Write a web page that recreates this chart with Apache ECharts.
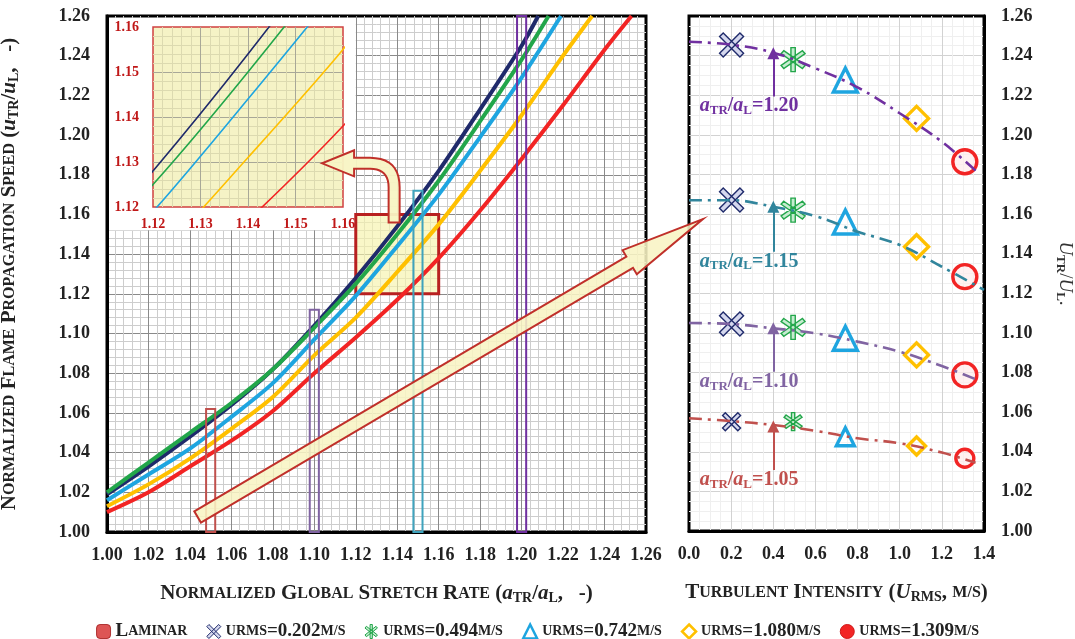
<!DOCTYPE html>
<html>
<head>
<meta charset="utf-8">
<script src="https://cdn.jsdelivr.net/npm/echarts@6/dist/echarts.min.js"></script>
<style>
  html, body { margin: 0; padding: 0; background: #fff; }
  #chart { width: 1075px; height: 639px; }
</style>
</head>
<body>
<div id="chart"></div>
<script>
// --- data ---
const seriesNames = ['urms=0.202m/s', 'urms=0.494m/s', 'urms=0.742m/s', 'urms=1.080m/s', 'urms=1.309m/s'];

// normalized speed vs normalized stretch rate, one curve per turbulence level
const curve0202 = [[1.00,1.019],[1.02,1.033],[1.04,1.048],[1.06,1.064],[1.08,1.082],[1.10,1.104],[1.12,1.128],[1.14,1.154],[1.16,1.182],[1.18,1.213],[1.20,1.245],[1.208,1.26]];
const curve0494 = [[1.00,1.020],[1.02,1.035],[1.04,1.050],[1.06,1.065],[1.08,1.082],[1.10,1.103],[1.12,1.125],[1.14,1.150],[1.16,1.177],[1.18,1.207],[1.20,1.238],[1.213,1.26]];
const curve0742 = [[1.00,1.016],[1.02,1.029],[1.04,1.042],[1.06,1.058],[1.08,1.075],[1.10,1.097],[1.12,1.119],[1.14,1.144],[1.16,1.170],[1.18,1.199],[1.20,1.229],[1.219,1.26]];
const curve1080 = [[1.00,1.013],[1.02,1.024],[1.04,1.037],[1.06,1.052],[1.08,1.068],[1.10,1.089],[1.12,1.108],[1.14,1.131],[1.16,1.155],[1.18,1.182],[1.20,1.210],[1.22,1.240],[1.234,1.26]];
const curve1309 = [[1.00,1.010],[1.02,1.020],[1.04,1.033],[1.06,1.046],[1.08,1.061],[1.10,1.080],[1.12,1.098],[1.14,1.117],[1.16,1.138],[1.18,1.162],[1.20,1.188],[1.22,1.215],[1.24,1.243],[1.253,1.26]];
const curves = [curve0202, curve0494, curve0742, curve1080, curve1309];

// right panel: speed at fixed stretch ratios vs urms
const urmsValues = [0.202, 0.494, 0.742, 1.080, 1.309];
const ratioLevels = ['1.20', '1.15', '1.10', '1.05'];
const speedAt120 = [1.2454, 1.238, 1.2277, 1.2083, 1.1864];
const speedAt115 = [1.1671, 1.162, 1.156, 1.1435, 1.1284];
const speedAt110 = [1.1045, 1.1028, 1.0973, 1.0889, 1.0788];
const speedAt105 = [1.0552, 1.0552, 1.0476, 1.0429, 1.0367];
const speedGroups = [speedAt120, speedAt115, speedAt110, speedAt105];

// dash-dot trend lines through each group
const trend120 = [[0,1.247],[0.2,1.2455],[0.4,1.2415],[0.6,1.2336],[0.8,1.224],[1.0,1.2109],[1.2,1.1965],[1.37,1.181]];
const trend115 = [[0,1.167],[0.2,1.167],[0.4,1.1637],[0.6,1.159],[0.8,1.1511],[1.0,1.1444],[1.2,1.1334],[1.4,1.1217]];
const trend110 = [[0,1.105],[0.2,1.1045],[0.4,1.1023],[0.6,1.0998],[0.8,1.0956],[1.0,1.0905],[1.2,1.0833],[1.37,1.0762]];
const trend105 = [[0,1.0569],[0.2,1.0555],[0.4,1.0535],[0.6,1.0506],[0.8,1.0468],[1.0,1.0443],[1.2,1.0396],[1.36,1.0345]];
const trends = [trend120, trend115, trend110, trend105];
const arrowX = 0.4;
const arrowFrom = [1.2193, 1.141, 1.0804, 1.0308];
const arrowTo = [1.2412, 1.1637, 1.1023, 1.0527];
const labelX = 0.285;
const labelY = [1.2146, 1.136, 1.0754, 1.0257];

// marked stretch ratios (thin boxes) and zoom window
const stretchMarks = [1.05, 1.10, 1.15, 1.20];
const markTops = [1.062, 1.112, 1.172, 1.26];
const zoomBox = [[1.12, 1.12, 1.16, 1.16]];
const coverBox = [[1.00, 1.152, 1.12, 1.26]];

// annotation arrows (data coords)
const bigArrowTail = [1.0437, 1.0076];
const bigArrowTip = [0.066, 1.1575];
const bendArrowBase = [1.1385, 1.16];
const bendArrowTip = [1.1556, 1.1297];

// --- styling ---
const SERIF = '"Liberation Serif", "Times New Roman", serif';
const colors = ['#1f2a6b', '#22a64a', '#1ea5e0', '#ffc000', '#f22424'];
const trendColors = ['#7030a0', '#31859c', '#8064a2', '#c0504d'];
const markColors = ['#c0504d', '#8064a2', '#3fa3bd', '#7030a0'];

function spokes(angles, half) {
  let d = '';
  angles.forEach(a => {
    const r = a * Math.PI / 180;
    const ux = Math.cos(r), uy = Math.sin(r), nx = -uy, ny = ux;
    const p = (s, t) => (50 + ux * 50 * s + nx * half * t).toFixed(1) + ' ' + (50 + uy * 50 * s + ny * half * t).toFixed(1);
    d += 'M' + p(-1, -1) + ' L' + p(1, -1) + ' L' + p(1, 1) + ' L' + p(-1, 1) + ' Z ';
  });
  return 'path://' + d;
}
const crossSym = spokes([45, 135], 9);
const starSym = spokes([90, 38, 142], 8);
const symbols = [crossSym, starSym, 'triangle', 'diamond', 'circle'];
const symbolFill = ['#d5d8ee', '#c6ecd0', 'rgba(255,255,255,0.2)', 'rgba(255,255,255,0.2)', 'rgba(255,235,235,0.7)'];

function richSet(size, color) {
  return {
    b: { fontFamily: SERIF, fontWeight: 'bold', fontSize: size, color: color },
    s: { fontFamily: SERIF, fontWeight: 'bold', fontSize: Math.round(size * 0.74), color: color },
    i: { fontFamily: SERIF, fontWeight: 'bold', fontStyle: 'italic', fontSize: size, color: color },
    sub: { fontFamily: SERIF, fontWeight: 'bold', fontSize: Math.round(size * 0.66), color: color, padding: [Math.round(size * 0.45), 0, 0, 0] }
  };
}
const caps = text => text.split(' ').map(w => `{b|${w[0]}}{s|${w.slice(1).toUpperCase()}}`).join('{b| }');

const chart = echarts.init(document.getElementById('chart'));

const tickFont = { fontFamily: SERIF, fontWeight: 'bold', fontSize: 18, color: '#222' };

function valueAxis(o) {
  return Object.assign({
    type: 'value',
    axisTick: { show: false },
    axisLine: { show: true, onZero: false, lineStyle: { color: '#000', width: 3 } },
    axisLabel: tickFont,
    splitLine: { show: true, showMinLine: false, showMaxLine: false, lineStyle: { color: '#8a8a8a', width: 1 } },
    minorTick: { show: false, splitNumber: 5 },
    minorSplitLine: { show: true, lineStyle: { color: '#cdcdcd', width: 1 } }
  }, o);
}

const series = [];

// main curves
curves.forEach((c, k) => {
  series.push({
    name: seriesNames[k], type: 'line', xAxisIndex: 0, yAxisIndex: 0,
    data: c, smooth: 0.3, showSymbol: false, z: 2,
    lineStyle: { color: colors[k], width: 4 }, itemStyle: { color: colors[k] }
  });
});
// inset curves
curves.forEach((c, k) => {
  series.push({
    name: seriesNames[k], type: 'line', xAxisIndex: 2, yAxisIndex: 2,
    data: c, smooth: 0.3, showSymbol: false, z: 5, clip: true,
    lineStyle: { color: colors[k], width: 1.6 }, itemStyle: { color: colors[k] }
  });
});

// white patch behind the inset
series.push({
  name: 'cover', type: 'custom', xAxisIndex: 0, yAxisIndex: 0, z: 1, silent: true,
  data: coverBox, encode: { x: [0, 2], y: [1, 3] },
  renderItem: (params, api) => {
    const a = api.coord([api.value(0), api.value(3)]);
    const b = api.coord([api.value(2), api.value(1)]);
    return { type: 'rect', shape: { x: a[0] + 2, y: a[1] + 2, width: b[0] - a[0] - 2, height: b[1] - a[1] - 2 }, style: { fill: '#fff' } };
  }
});
// zoom window box
series.push({
  name: 'zoom', type: 'custom', xAxisIndex: 0, yAxisIndex: 0, z: 1, silent: true,
  data: zoomBox, encode: { x: [0, 2], y: [1, 3] },
  renderItem: (params, api) => {
    const a = api.coord([api.value(0), api.value(3)]);
    const b = api.coord([api.value(2), api.value(1)]);
    return { type: 'rect', shape: { x: a[0], y: a[1], width: b[0] - a[0], height: b[1] - a[1] },
      style: { fill: 'rgba(246,242,170,0.65)', stroke: '#b82020', lineWidth: 3 } };
  }
});
// thin boxes at marked stretch ratios
series.push({
  name: 'marks', type: 'custom', xAxisIndex: 0, yAxisIndex: 0, z: 3, silent: true,
  data: stretchMarks.map((x, i) => [x, markTops[i]]), encode: { x: 0, y: 1 },
  renderItem: (params, api) => {
    const a = api.coord([api.value(0) - 0.0022, api.value(1)]);
    const b = api.coord([api.value(0) + 0.0022, 1.0]);
    return { type: 'rect', shape: { x: a[0], y: a[1], width: b[0] - a[0], height: b[1] - a[1] },
      style: { fill: 'none', stroke: markColors[params.dataIndex], lineWidth: 2 } };
  }
});
// legend-only laminar entry
series.push({ name: 'Laminar', type: 'scatter', xAxisIndex: 0, yAxisIndex: 0, data: [], itemStyle: { color: '#d02a2a' } });

// trend lines on the right
trends.forEach((t, k) => {
  const col = trendColors[k];
  series.push({
    name: 'trend' + ratioLevels[k], type: 'line', xAxisIndex: 1, yAxisIndex: 1,
    data: t, smooth: 0.4, showSymbol: false, z: 6, silent: true,
    lineStyle: { color: col, width: 2.6, type: [13, 6, 3, 6] },
    markLine: {
      silent: true, symbol: ['none', 'triangle'], symbolSize: 12,
      lineStyle: { color: col, width: 2, type: 'solid' }, label: { show: false },
      data: [[{ coord: [arrowX, arrowFrom[k]] }, { coord: [arrowX, arrowTo[k]] }]]
    },
    markPoint: {
      silent: true, symbol: 'circle', symbolSize: 1, itemStyle: { color: 'rgba(0,0,0,0)' },
      label: {
        show: true, position: 'inside',
        formatter: '{i|a}{sub|TR}{b|/}{i|a}{sub|L}{b|=' + ratioLevels[k] + '}',
        rich: richSet(20, col)
      },
      data: [{ coord: [labelX, labelY[k]] }]
    }
  });
});

// markers on the right
urmsValues.forEach((u, k) => {
  series.push({
    name: seriesNames[k], type: 'scatter', xAxisIndex: 1, yAxisIndex: 1, z: 5,
    data: speedGroups.map(g => [u, g[k]]),
    symbol: symbols[k],
    symbolSize: (v, p) => (p.dataIndex === 3 ? 18 : 24),
    itemStyle: { color: symbolFill[k], borderColor: colors[k], borderWidth: k < 2 ? 1.4 : 3.4, opacity: 1 }
  });
});

const legendIcons = [
  { name: 'Laminar', icon: 'roundRect', itemStyle: { color: '#d42a2a', borderColor: '#a01818', borderWidth: 1 } },
  { name: seriesNames[0], icon: crossSym, itemStyle: { color: '#d5d8ee', borderColor: colors[0], borderWidth: 1 } },
  { name: seriesNames[1], icon: starSym, itemStyle: { color: '#c6ecd0', borderColor: colors[1], borderWidth: 1 } },
  { name: seriesNames[2], icon: 'triangle', itemStyle: { color: '#fff', borderColor: colors[2], borderWidth: 2.5 } },
  { name: seriesNames[3], icon: 'diamond', itemStyle: { color: '#fff', borderColor: colors[3], borderWidth: 2.5 } },
  { name: seriesNames[4], icon: 'circle', itemStyle: { color: '#f22424', borderColor: '#d01818', borderWidth: 1 } }
];

const option = {
  animation: false,
  backgroundColor: '#fff',
  grid: [
    { left: 107, top: 16, width: 539, height: 516, outerBoundsMode: 'none', containLabel: false, show: true, borderColor: '#000', borderWidth: 3, backgroundColor: '#fff' },
    { left: 689, top: 16, width: 295, height: 515, outerBoundsMode: 'none', containLabel: false, show: true, borderColor: '#000', borderWidth: 3, backgroundColor: '#fff' },
    { left: 153, top: 27, width: 190, height: 180, outerBoundsMode: 'none', containLabel: false, show: true, borderColor: '#d04040', borderWidth: 1.5, backgroundColor: '#f5f3c6', z: 3 }
  ],
  xAxis: [
    valueAxis({
      gridIndex: 0, min: 1.0, max: 1.26, interval: 0.02,
      axisLabel: Object.assign({ margin: 14, formatter: v => v.toFixed(2) }, tickFont),
      name: caps('Normalized Global Stretch Rate') + '{b| (}{i|a}{sub|TR}{b|/}{i|a}{sub|L}{b|,   -)}',
      nameLocation: 'middle', nameGap: 50, nameTextStyle: { rich: richSet(21, '#222') }
    }),
    valueAxis({
      gridIndex: 1, min: 0, max: 1.4, interval: 0.2,
      axisLabel: Object.assign({ margin: 14, formatter: v => v.toFixed(1) }, tickFont),
      splitLine: { show: true, showMinLine: false, showMaxLine: false, lineStyle: { color: '#d2d2d2', width: 1 } },
      minorTick: { show: false, splitNumber: 4 },
      minorSplitLine: { show: true, lineStyle: { color: '#efefef', width: 1 } },
      name: caps('Turbulent Intensity') + '{b| (}{i|U}{sub|RMS}{b|, }{s|M/S}{b|)}',
      nameLocation: 'middle', nameGap: 50, nameTextStyle: { rich: richSet(21, '#222') }
    }),
    valueAxis({
      gridIndex: 2, min: 1.12, max: 1.16, interval: 0.01, z: 3,
      axisLine: { show: false },
      axisLabel: { fontFamily: SERIF, fontWeight: 'bold', fontSize: 14, color: '#c01818', margin: 10, formatter: v => v.toFixed(2) },
      splitLine: { show: true, showMinLine: false, showMaxLine: false, lineStyle: { color: '#a8a898', width: 1 } },
      minorSplitLine: { show: true, lineStyle: { color: '#dcdab0', width: 1 } }
    })
  ],
  yAxis: [
    valueAxis({
      gridIndex: 0, min: 1.0, max: 1.26, interval: 0.02,
      axisLabel: Object.assign({ margin: 17, formatter: v => v.toFixed(2) }, tickFont),
      name: caps('Normalized Flame Propagation Speed') + '{b| (}{i|u}{sub|TR}{b|/}{i|u}{sub|L}{b|,   -)}',
      nameLocation: 'middle', nameGap: 86, nameTextStyle: { rich: richSet(21, '#222') }
    }),
    valueAxis({
      gridIndex: 1, position: 'right', min: 1.0, max: 1.26, interval: 0.02,
      axisLabel: Object.assign({ margin: 17, formatter: v => v.toFixed(2) }, tickFont),
      splitLine: { show: true, showMinLine: false, showMaxLine: false, lineStyle: { color: '#d2d2d2', width: 1 } },
      minorTick: { show: false, splitNumber: 4 },
      minorSplitLine: { show: true, lineStyle: { color: '#efefef', width: 1 } },
      name: '{i|U}{sub|TR}{b|/}{i|U}{sub|L}{b|.}',
      nameLocation: 'middle', nameGap: 70, nameRotate: -90,
      nameTextStyle: { rich: Object.assign(richSet(19, '#333'), {
        i: { fontFamily: SERIF, fontStyle: 'italic', fontSize: 19, color: '#333' },
        b: { fontFamily: SERIF, fontSize: 19, color: '#333' } }) }
    }),
    valueAxis({
      gridIndex: 2, min: 1.12, max: 1.16, interval: 0.01, z: 3,
      axisLine: { show: false },
      axisLabel: { fontFamily: SERIF, fontWeight: 'bold', fontSize: 14, color: '#c01818', margin: 14, formatter: v => v.toFixed(2) },
      splitLine: { show: true, showMinLine: false, showMaxLine: false, lineStyle: { color: '#a8a898', width: 1 } },
      minorSplitLine: { show: true, lineStyle: { color: '#dcdab0', width: 1 } }
    })
  ],
  legend: {
    top: 617, left: 'center', itemWidth: 14, itemHeight: 14, itemGap: 19,
    data: legendIcons,
    formatter: name => name === 'Laminar' ? '{b|L}{s|AMINAR}'
      : '{s|URMS}{b|=' + name.slice(5, 10) + '}{s|M/S}',
    textStyle: { rich: {
      b: { fontFamily: SERIF, fontWeight: 'bold', fontSize: 19, color: '#222' },
      s: { fontFamily: SERIF, fontWeight: 'bold', fontSize: 14, color: '#222' }
    } }
  },
  series: series
};

chart.setOption(option);

// block arrows drawn over the plot
function blockArrow(p0, p1, shaft, head, headLen) {
  const dx = p1[0] - p0[0], dy = p1[1] - p0[1], len = Math.hypot(dx, dy);
  const ux = dx / len, uy = dy / len, nx = -uy, ny = ux;
  const bx = p1[0] - ux * headLen, by = p1[1] - uy * headLen;
  return [
    [p0[0] + nx * shaft, p0[1] + ny * shaft], [bx + nx * shaft, by + ny * shaft], [bx + nx * head, by + ny * head],
    p1,
    [bx - nx * head, by - ny * head], [bx - nx * shaft, by - ny * shaft], [p0[0] - nx * shaft, p0[1] - ny * shaft]
  ];
}
function quad(p0, c, p1, n) {
  const out = [];
  for (let i = 1; i <= n; i++) {
    const t = i / n, m = 1 - t;
    out.push([m * m * p0[0] + 2 * m * t * c[0] + t * t * p1[0], m * m * p0[1] + 2 * m * t * c[1] + t * t * p1[1]]);
  }
  return out;
}
function bentArrow(base, tip) {
  const bx = base[0], by = base[1] + 8, tx = tip[0], ty = tip[1];
  const w = 5.5, h = 13, L = 32, r = 24;
  let pts = [[bx + w, by], [bx + w, ty + r]];
  pts = pts.concat(quad([bx + w, ty + r], [bx + w, ty - w], [bx - r, ty - w], 10));
  pts.push([tx + L, ty - w], [tx + L, ty - h], [tx, ty], [tx + L, ty + h], [tx + L, ty + w], [bx - r, ty + w]);
  pts = pts.concat(quad([bx - r, ty + w], [bx - w, ty + w], [bx - w, ty + r], 10));
  pts.push([bx - w, by]);
  return pts;
}

const tailPx = chart.convertToPixel({ xAxisIndex: 0, yAxisIndex: 0 }, bigArrowTail);
const tipPx = chart.convertToPixel({ xAxisIndex: 1, yAxisIndex: 1 }, bigArrowTip);
const bendBase = chart.convertToPixel({ xAxisIndex: 0, yAxisIndex: 0 }, bendArrowBase);
const bendTip = chart.convertToPixel({ xAxisIndex: 2, yAxisIndex: 2 }, bendArrowTip);

chart.setOption({
  graphic: [
    { type: 'polygon', z: 20, silent: true, shape: { points: blockArrow(tailPx, tipPx, 6.5, 14, 85) },
      style: { fill: 'rgba(248,244,196,0.88)', stroke: '#c0302a', lineWidth: 2 } },
    { type: 'polygon', z: 20, silent: true, shape: { points: bentArrow(bendBase, bendTip) },
      style: { fill: 'rgba(248,244,196,0.95)', stroke: '#c0302a', lineWidth: 2 } }
  ]
});
</script>
</body>
</html>
